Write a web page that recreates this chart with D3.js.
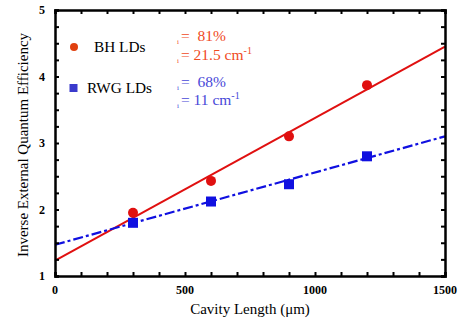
<!DOCTYPE html>
<html>
<head>
  <meta charset="utf-8">
  <title>Inverse efficiency vs cavity length</title>
  <script src="https://cdn.jsdelivr.net/npm/d3@7"></script>
  <style>
    body { margin: 0; background: #fff; }
  </style>
</head>
<body>
<svg id="chart" width="462" height="327" font-family="'Liberation Serif', 'DejaVu Serif', serif"></svg>
<script>
// data
var cavityLen = [300, 600, 900, 1200];
var bhValues = [1.95, 2.43, 3.1, 3.87];
var rwgValues = [1.8, 2.12, 2.38, 2.8];
var bhFit = [[0, 1.23], [1500, 4.45]];
var rwgFit = [[0, 1.47], [1500, 3.1]];
var xTicks = [0, 500, 1000, 1500];
var yTicks = [1, 2, 3, 4, 5];

var svg = d3.select('#chart');
var padL = 55, padR = 445, padT = 10, padB = 276;

var x = d3.scaleLinear().domain([0, 1500]).range([padL, padR]);
var y = d3.scaleLinear().domain([1, 5]).range([padB, padT]);

var line = d3.line().x(function(d) { return x(d[0]); }).y(function(d) { return y(d[1]); });

// fit lines
svg.append('path').datum(bhFit).attr('d', line)
  .attr('stroke', '#e01010').attr('stroke-width', 2).attr('fill', 'none');
svg.append('path').datum(rwgFit).attr('d', line)
  .attr('stroke', '#1010e0').attr('stroke-width', 2.2).attr('fill', 'none')
  .attr('stroke-dasharray', '10,3,3,3');

// markers
svg.selectAll('circle.bh').data(cavityLen).enter().append('circle')
  .attr('class', 'bh')
  .attr('cx', function(d) { return x(d); })
  .attr('cy', function(d, i) { return y(bhValues[i]); })
  .attr('r', 5).attr('fill', '#e01010');
svg.selectAll('rect.rwg').data(cavityLen).enter().append('rect')
  .attr('class', 'rwg')
  .attr('x', function(d) { return x(d) - 5; })
  .attr('y', function(d, i) { return y(rwgValues[i]) - 5; })
  .attr('width', 10).attr('height', 10).attr('fill', '#1010e0');

// axes with inward ticks on all four sides
var frame = svg.append('g');
frame.append('g').attr('transform', 'translate(0,' + padB + ')')
  .call(d3.axisBottom(x).tickValues(d3.range(0, 1501, 100)).tickSize(-4).tickFormat(''));
frame.append('g').attr('transform', 'translate(0,' + padT + ')')
  .call(d3.axisTop(x).tickValues(d3.range(0, 1501, 100)).tickSize(-4).tickFormat(''));
frame.append('g').attr('transform', 'translate(' + padL + ',0)')
  .call(d3.axisLeft(y).tickValues(d3.range(1, 5.01, 0.25)).tickSize(-4).tickFormat(''));
frame.append('g').attr('transform', 'translate(' + padR + ',0)')
  .call(d3.axisRight(y).tickValues(d3.range(1, 5.01, 0.25)).tickSize(-4).tickFormat(''));
frame.selectAll('.domain').attr('stroke', '#000').attr('stroke-width', 2.5);
frame.selectAll('.tick line').attr('stroke', '#000').attr('stroke-width', 2);

var serif = "'Liberation Serif', 'DejaVu Serif', serif";

// tick labels
svg.selectAll('text.xl').data(xTicks).enter().append('text')
  .attr('class', 'xl').attr('font-family', serif)
  .attr('x', function(d) { return x(d); }).attr('y', padB + 18)
  .attr('text-anchor', 'middle').attr('font-size', 12).attr('font-weight', 'bold')
  .text(function(d) { return d; });
svg.selectAll('text.yl').data(yTicks).enter().append('text')
  .attr('class', 'yl').attr('font-family', serif)
  .attr('x', padL - 10).attr('y', function(d) { return y(d) + 4; })
  .attr('text-anchor', 'end').attr('font-size', 12).attr('font-weight', 'bold')
  .text(function(d) { return d; });

// axis titles
svg.append('text').attr('font-family', serif).attr('x', (padL + padR) / 2).attr('y', 314)
  .attr('text-anchor', 'middle').attr('font-size', 15)
  .text('Cavity Length (\u03bcm)');
svg.append('text').attr('font-family', serif)
  .attr('transform', 'translate(28,' + ((padT + padB) / 2 + 2) + ') rotate(-90)')
  .attr('text-anchor', 'middle').attr('font-size', 15)
  .text('Inverse External Quantum Efficiency');

// legend
svg.append('circle').attr('cx', 74).attr('cy', 47).attr('r', 4).attr('fill', '#e0400f');
svg.append('text').attr('font-family', serif).attr('x', 94).attr('y', 52).attr('font-size', 15.3).text('BH LDs');
svg.append('rect').attr('x', 69.5).attr('y', 84).attr('width', 8).attr('height', 8).attr('fill', '#3a3acc');
svg.append('text').attr('font-family', serif).attr('x', 87).attr('y', 93).attr('font-size', 15.3).text('RWG LDs');

// annotations
var notes = [
  { y: 41, color: '#f04a1e', text: '=  81%' },
  { y: 60, color: '#f04a1e', text: '= 21.5 cm', sup: '-1' },
  { y: 87, color: '#4848d8', text: '=  68%' },
  { y: 105, color: '#4848d8', text: '= 11 cm', sup: '-1' }
];
notes.forEach(function(n) {
  svg.append('text').attr('font-family', serif).attr('x', 177).attr('y', n.y + 3)
    .attr('font-size', 7).attr('fill', n.color).text('i');
  var t = svg.append('text').attr('font-family', serif).attr('x', 181).attr('y', n.y)
    .attr('font-size', 15.5).attr('fill', n.color).attr('xml:space', 'preserve').text(n.text);
  if (n.sup) {
    t.append('tspan').attr('dy', -6).attr('font-size', 10).text(n.sup);
  }
});
</script>
</body>
</html>
